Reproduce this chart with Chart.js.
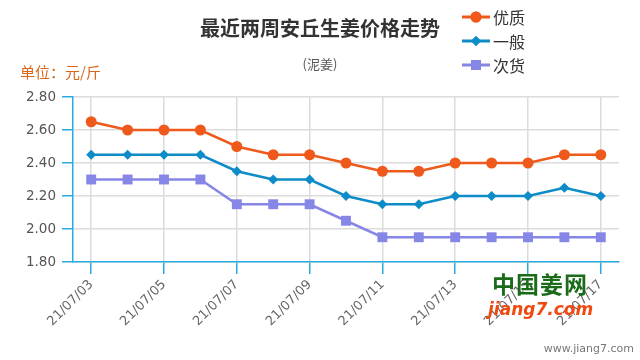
<!DOCTYPE html>
<html>
<head>
<meta charset="utf-8">
<script src="https://cdn.jsdelivr.net/npm/chart.js@4"></script>
<style>
  body { margin: 0; background: #fff; font-family: "Noto Sans CJK SC", sans-serif; }
  #wrap { position: relative; width: 640px; height: 360px; }
  #myChart { position: absolute; left: 0; top: 0; }
  .txt { position: absolute; white-space: nowrap; }
  #titulo { left: 0; width: 640px; text-align: center; top: 13px; font-size: 20px; font-weight: bold; color: #333; }
  #sub { left: 0; width: 640px; text-align: center; top: 54px; font-size: 13px; color: #555; }
  #unidad { left: 20px; top: 61px; font-size: 15px; color: #d9661a; }
  #leyenda { left: 462px; top: 5px; }
  .item { height: 24px; display: flex; align-items: center; font-size: 16px; color: #333; }
  .item canvas { margin-right: 3px; }
  #logo1 { left: 492px; top: 266px; font-size: 23px; font-weight: bold; color: #1a6b1a; letter-spacing: 1px; }
  #logo2 { left: 488px; top: 299px; font-size: 17px; font-weight: bold; font-style: italic; color: #f04a10; font-family: "DejaVu Sans", sans-serif; }
  #web { right: 6px; top: 342px; font-size: 11px; color: #777; font-family: "DejaVu Sans", sans-serif; }
</style>
</head>
<body>
<div id="wrap">
  <canvas id="myChart" width="640" height="360"></canvas>
  <div class="txt" id="titulo">最近两周安丘生姜价格走势</div>
  <div class="txt" id="sub">(泥姜)</div>
  <div class="txt" id="unidad">单位：元/斤</div>
  <div class="txt" id="leyenda"></div>
  <div class="txt" id="logo1">中国姜网</div>
  <div class="txt" id="logo2">jiang7.com</div>
  <div class="txt" id="web">www.jiang7.com</div>
</div>
<script>
// Datos
var fechas = ['21/07/03', '21/07/04', '21/07/05', '21/07/06', '21/07/07', '21/07/08', '21/07/09', '21/07/10',
              '21/07/11', '21/07/12', '21/07/13', '21/07/14', '21/07/15', '21/07/16', '21/07/17'];
var series = ['优质', '一般', '次货'];
var youzhi = [2.65, 2.60, 2.60, 2.60, 2.50, 2.45, 2.45, 2.40, 2.35, 2.35, 2.40, 2.40, 2.40, 2.45, 2.45];
var yiban = [2.45, 2.45, 2.45, 2.45, 2.35, 2.30, 2.30, 2.20, 2.15, 2.15, 2.20, 2.20, 2.20, 2.25, 2.20];
var cihuo = [2.30, 2.30, 2.30, 2.30, 2.15, 2.15, 2.15, 2.05, 1.95, 1.95, 1.95, 1.95, 1.95, 1.95, 1.95];
var yMin = 1.80, yMax = 2.80, yStep = 0.20;

var colores = ['#ef5a1c', '#0d8cc8', '#8686e6'];
var estilos = ['circle', 'rectRot', 'rect'];
var radios = [5.5, 5, 7];
var valores = [youzhi, yiban, cihuo];

var azul = '#29abe2';

var ctx = document.getElementById('myChart').getContext('2d');
var graficoChart = new Chart(ctx, {
    type: 'line',
    data: {
        labels: fechas,
        datasets: series.map(function (nombre, i) {
            return {
                label: nombre,
                data: valores[i],
                borderColor: colores[i],
                backgroundColor: colores[i],
                borderWidth: 2.5,
                pointStyle: estilos[i],
                pointRadius: radios[i],
                pointHoverRadius: radios[i],
                pointBorderWidth: 0,
                tension: 0,
                fill: false
            };
        })
    },
    options: {
        responsive: false,
        animation: false,
        layout: { padding: { left: 0, right: 21, top: 97, bottom: 0 } },
        plugins: {
            legend: { display: false },
            tooltip: { enabled: false }
        },
        scales: {
            x: {
                offset: true,
                grid: {
                    offset: false,
                    color: '#dcdcdc',
                    lineWidth: 1.5,
                    tickColor: azul,
                    tickLength: 12,
                    tickWidth: 1.5
                },
                border: { color: azul, width: 1.5 },
                ticks: {
                    autoSkip: false,
                    minRotation: 45,
                    maxRotation: 45,
                    color: '#666',
                    font: { size: 13, family: 'DejaVu Sans' },
                    callback: function (val, idx) {
                        return idx % 2 === 0 ? this.getLabelForValue(val) : null;
                    }
                },
                afterFit: function (s) { s.height = 98; }
            },
            y: {
                min: yMin,
                max: yMax,
                grid: {
                    color: '#dcdcdc',
                    lineWidth: 1.5,
                    tickColor: azul,
                    tickLength: 11,
                    tickWidth: 1.5
                },
                border: { color: azul, width: 1.5 },
                ticks: {
                    stepSize: yStep,
                    color: '#555',
                    padding: 6,
                    font: { size: 13.5, family: 'DejaVu Sans' },
                    callback: function (v) { return v.toFixed(2); }
                },
                afterFit: function (s) { s.width = 73; }
            }
        }
    }
});

// Leyenda vertical en HTML
var leyenda = document.getElementById('leyenda');
series.forEach(function (nombre, i) {
    var fila = document.createElement('div');
    fila.className = 'item';
    var c = document.createElement('canvas');
    c.width = 28; c.height = 16;
    var g = c.getContext('2d');
    g.strokeStyle = colores[i];
    g.lineWidth = 3;
    g.beginPath(); g.moveTo(0, 8); g.lineTo(28, 8); g.stroke();
    g.fillStyle = colores[i];
    Chart.helpers.drawPoint(g, { pointStyle: estilos[i], radius: radios[i], borderWidth: 0, rotation: 0 }, 14, 8);
    g.fill();
    fila.appendChild(c);
    var t = document.createElement('span');
    t.textContent = nombre;
    fila.appendChild(t);
    leyenda.appendChild(fila);
});
</script>
</body>
</html>
